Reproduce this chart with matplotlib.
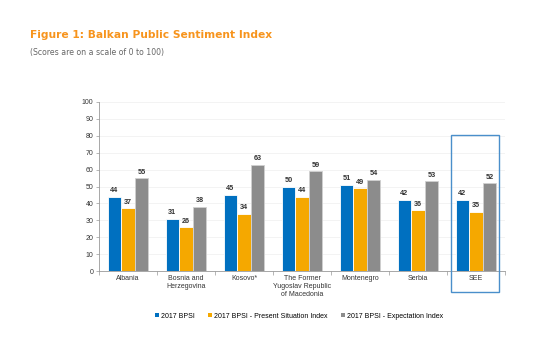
import matplotlib.pyplot as plt
import numpy as np
from matplotlib.patches import Rectangle

# data
countries = ["Albania", "Bosnia and\nHerzegovina", "Kosovo*", "The Former\nYugoslav Republic\nof Macedonia",
             "Montenegro", "Serbia", "SEE"]
bpsi = [44, 31, 45, 50, 51, 42, 42]
present = [37, 26, 34, 44, 49, 36, 35]
expect = [55, 38, 63, 59, 54, 53, 52]
series_names = ["2017 BPSI", "2017 BPSI - Present Situation Index", "2017 BPSI - Expectation Index"]
colors = ["#0070C0", "#F5A800", "#8C8C8C"]

plt.rcParams['font.family'] = ['Liberation Sans', 'DejaVu Sans']

fig = plt.figure(figsize=(5.59, 3.38), dpi=100)
fig.patch.set_facecolor("white")

fig.text(30 / 559, 1 - 35 / 338, "Figure 1: Balkan Public Sentiment Index", color="#F7941D",
         fontsize=7.7, fontweight="bold", family="DejaVu Sans", va="center")
fig.text(30 / 559, 1 - 52 / 338, "(Scores are on a scale of 0 to 100)", color="#666666",
         fontsize=5.6, family="DejaVu Sans", va="center")

ax = fig.add_axes([99 / 559, (338 - 271) / 338, 406 / 559, 169 / 338])
x = np.arange(len(countries))
w = 0.235
for i, (vals, col) in enumerate(zip([bpsi, present, expect], colors)):
    pos = x + (i - 1) * w
    ec = "#D0D0D0" if i == 2 else "white"
    ax.bar(pos, vals, w, color=col, edgecolor=ec, linewidth=0.6, label=series_names[i], zorder=3)
    for p, v in zip(pos, vals):
        ax.text(p, v + 1.5, str(v), ha="center", va="bottom", fontsize=5.2, fontweight="bold", color="#333333")

ax.set_xlim(-0.5, len(countries) - 0.5)
ax.set_ylim(0, 100)
ax.set_yticks(range(0, 101, 10))
ax.tick_params(axis="y", labelsize=5, length=2, width=0.5, color="#999999", pad=2, labelcolor="#333333")
ax.set_xticks(x)
ax.set_xticklabels(countries, fontsize=5, color="#333333", linespacing=1.2)
ax.set_xticks(np.arange(-0.5, len(countries), 1), minor=True)
ax.tick_params(axis="x", which="major", length=0, pad=3)
ax.tick_params(axis="x", which="minor", length=3, width=0.5, color="#999999")
ax.grid(axis="y", color="#EEEEEE", linewidth=0.5, zorder=0)
for s in ["top", "right"]:
    ax.spines[s].set_visible(False)
for s in ["left", "bottom"]:
    ax.spines[s].set_color("#999999")
    ax.spines[s].set_linewidth(0.6)

# highlight box around SEE
fig.patches.append(Rectangle((451 / 559, 1 - 292 / 338), 48 / 559, 157 / 338, transform=fig.transFigure,
                             fill=False, edgecolor="#4A8FCB", linewidth=1.0))

leg = fig.legend(loc="center", bbox_to_anchor=(299 / 559, 1 - 316 / 338), ncol=3, frameon=False,
                 fontsize=5, handlelength=0.6, handleheight=0.6, handletextpad=0.3, columnspacing=1.9)
for h in leg.legend_handles:
    h.set_edgecolor("none")

fig.savefig("out.png", dpi=100, facecolor="white")
